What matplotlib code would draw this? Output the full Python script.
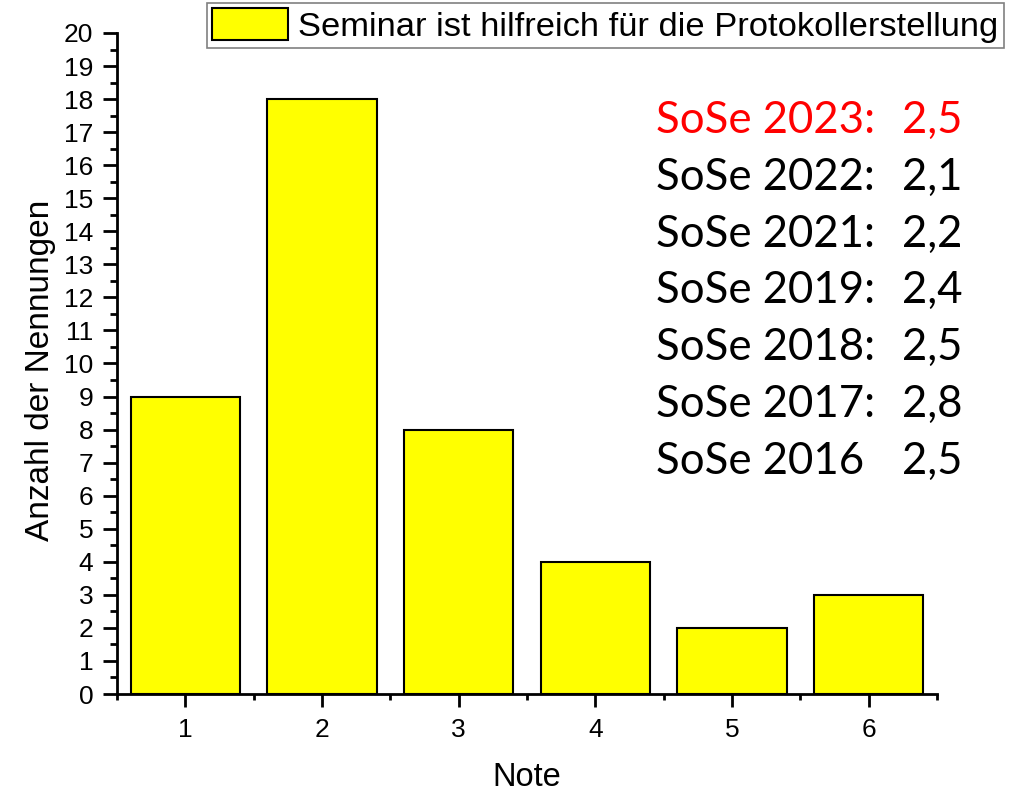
import matplotlib
matplotlib.use("Agg")
import matplotlib.pyplot as plt
from matplotlib.ticker import MultipleLocator, FixedLocator

# ---- data ----
noten = [1, 2, 3, 4, 5, 6]
anzahl = [9, 18, 8, 4, 2, 3]
legend_label = "Seminar ist hilfreich für die Protokollerstellung"
sem_labels = ["SoSe 2023:", "SoSe 2022:", "SoSe 2021:", "SoSe 2019:",
              "SoSe 2018:", "SoSe 2017:", "SoSe 2016"]
sem_values = ["2,5", "2,1", "2,2", "2,4", "2,5", "2,8", "2,5"]
sem_colors = ["#ff0000"] + ["#000000"] * 6

plt.rcParams['font.family'] = ['Liberation Sans', 'DejaVu Sans']

W, H = 1010, 793
fig = plt.figure(figsize=(W / 100, H / 100), dpi=100)
ax = fig.add_axes([117 / W, 1 - 694 / H, (937 - 117) / W, (694 - 33) / H])

ax.bar(noten, anzahl, width=0.8, color="#ffff00", edgecolor="black",
       linewidth=1.5, label=legend_label, zorder=2)

ax.set_xlim(0.5, 6.5)
ax.set_ylim(0, 20)
ax.xaxis.set_major_locator(FixedLocator(noten))
ax.xaxis.set_minor_locator(MultipleLocator(0.5))
ax.yaxis.set_major_locator(MultipleLocator(1))
ax.yaxis.set_minor_locator(MultipleLocator(0.5))

for s in ["top", "right"]:
    ax.spines[s].set_visible(False)
for s in ["left", "bottom"]:
    ax.spines[s].set_linewidth(2)

ax.tick_params(axis="y", which="major", direction="out", length=10, width=2,
               pad=7, labelsize=19)
ax.tick_params(axis="y", which="minor", direction="out", length=5, width=2)
ax.tick_params(axis="x", which="major", direction="out", length=9, width=2,
               pad=8, labelsize=19)
ax.tick_params(axis="x", which="minor", direction="out", length=4, width=2)

ax.set_xlabel("Note", fontsize=23.5, labelpad=15)
ax.set_ylabel("Anzahl der Nennungen", fontsize=24)
ax.yaxis.set_label_coords(-0.074, 0.49)

leg = ax.legend(loc="upper left", bbox_to_anchor=(207 / W, 1 - 3 / H),
                bbox_transform=fig.transFigure, fontsize=24.8,
                fancybox=False, edgecolor="#808080", framealpha=1,
                borderpad=0.15, borderaxespad=0, handlelength=2.2,
                handleheight=1.05, handletextpad=0.3)
leg.get_frame().set_linewidth(1.2)

# semester annotations
for i, (lab, val, col) in enumerate(zip(sem_labels, sem_values, sem_colors)):
    yb = 1 - (133 + 56.8 * i) / H
    fig.text(656 / W, yb, lab, color=col, fontsize=31.5, family=["Lato", "DejaVu Sans"],
             ha="left", va="baseline")
    fig.text(962 / W, yb, val, color=col, fontsize=31.5, family=["Lato", "DejaVu Sans"],
             ha="right", va="baseline")

fig.savefig("out.png", dpi=100)
